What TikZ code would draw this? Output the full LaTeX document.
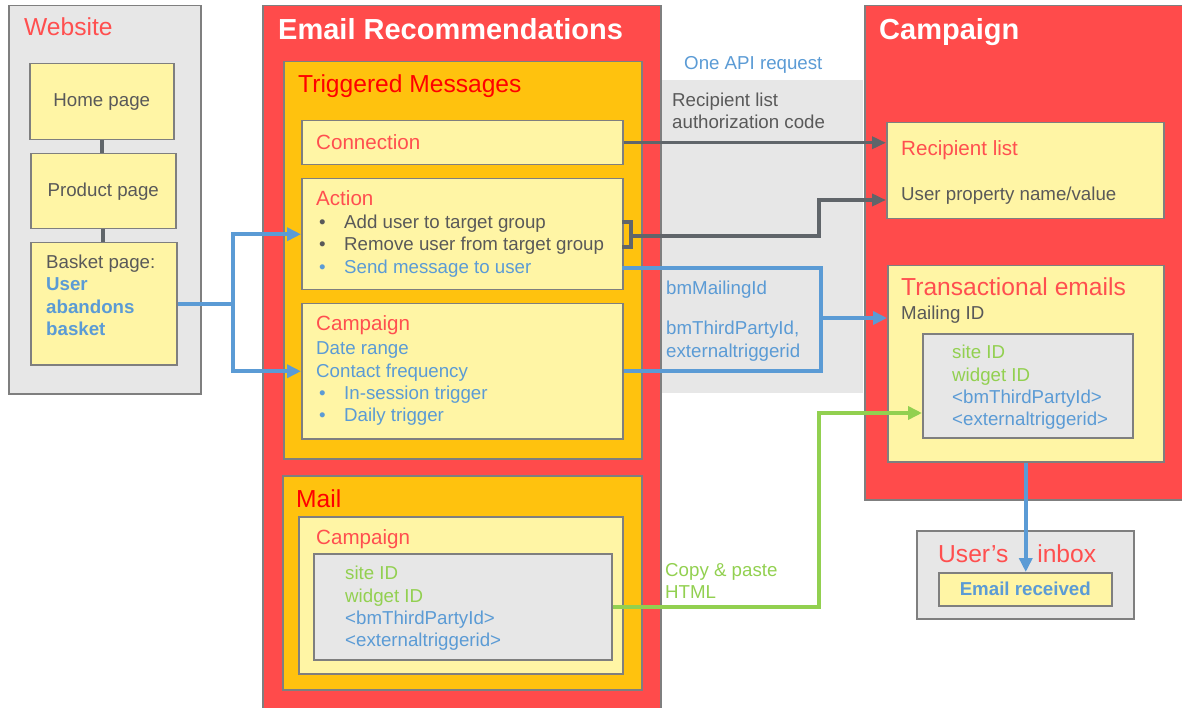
\documentclass[tikz,border=0pt]{standalone}
\usepackage{fontspec}
\setmainfont{Liberation Sans}
\usetikzlibrary{arrows.meta}
\definecolor{redfill}{HTML}{FF4B4B}
\definecolor{orangefill}{HTML}{FFC20E}
\definecolor{yellowfill}{HTML}{FFF5A5}
\definecolor{grayfill}{HTML}{E7E7E7}
\definecolor{edgegray}{HTML}{7F7F7F}
\definecolor{titlered}{HTML}{FF4F4F}
\definecolor{deepred}{HTML}{FF0000}
\definecolor{textblue}{HTML}{5B9BD5}
\definecolor{textgreen}{HTML}{92D050}
\definecolor{textgray}{HTML}{595959}
\definecolor{linegray}{HTML}{60656A}
\newcommand{\txtbody}{\fontsize{18.7}{22.3}\selectfont}
\newcommand{\txtsub}{\fontsize{20.6}{24}\selectfont}
\newcommand{\txtsec}{\fontsize{24.6}{28}\selectfont}
\newcommand{\txtbig}{\fontsize{29}{33}\selectfont\bfseries}
\newcommand{\blt}{\makebox[25pt][l]{•}}
\tikzset{
  box/.style={draw=edgegray, line width=1.5pt, anchor=north west, inner sep=0pt},
  lbl/.style={anchor=base west, inner sep=0pt, align=left, font=\txtbody},
  bluearrow/.style={draw=textblue, line width=4pt, -{Triangle[length=14pt,width=13pt]}},
  blueline/.style={draw=textblue, line width=4pt},
  grayarrow/.style={draw=linegray, line width=3.5pt, -{Triangle[length=14pt,width=12pt]}},
  grayline/.style={draw=linegray, line width=4pt},
  greenarrow/.style={draw=textgreen, line width=4pt, -{Triangle[length=14pt,width=13pt]}}
}
\begin{document}
\begin{tikzpicture}[x=1pt,y=-1pt]
  \useasboundingbox (0,0) rectangle (1182,708);
  % website
  \node[box, fill=grayfill, minimum width=192, minimum height=388] (website) at (8,5) {};
  \node[lbl, text=titlered, font=\txtsec] (websitetitle) at (24,35.8) {Website};
  \node[box, fill=yellowfill, minimum width=144, minimum height=76] (home) at (29,63) {};
  \node[text=textgray, font=\txtbody] (hometext) at (home.center) {Home page};
  \node[box, fill=yellowfill, minimum width=145, minimum height=75] (product) at (30,153) {};
  \node[text=textgray, font=\txtbody] (producttext) at (product.center) {Product page};
  \node[box, fill=yellowfill, minimum width=146, minimum height=122] (basket) at (30,242) {};
  \node[lbl] (baskettext) at (46,335.3) {\color{textgray}Basket page:\\
    \color{textblue}\bfseries User\\ \color{textblue}\bfseries abandons\\ \color{textblue}\bfseries basket};
  \draw[grayline] (home.south) -- (home.south |- product.north);
  \draw[grayline] (product.south) -- (product.south |- basket.north);
  % API band
  \node[anchor=north west, inner sep=0pt, fill=grayfill, minimum width=203, minimum height=313] (band) at (660,80) {};
  % email recommendations
  \node[box, fill=redfill, minimum width=398, minimum height=705] (emailrec) at (262,5) {};
  \node[lbl, text=white, font=\txtbig] (emailrectitle) at (278,39.4) {Email Recommendations};
  \node[box, fill=orangefill, minimum width=358, minimum height=397] (trig) at (283,61) {};
  \node[lbl, text=deepred, font=\txtsec] (trigtitle) at (298,92.8) {Triggered Messages};
  \node[box, fill=yellowfill, minimum width=321, minimum height=44] (conn) at (301,120) {};
  \node[lbl, text=titlered, font=\txtsub] (conntitle) at (316,149.4) {Connection};
  \node[box, fill=yellowfill, minimum width=321, minimum height=111] (action) at (301,178) {};
  \node[lbl, text=titlered, font=\txtsub] (actiontitle) at (316,205.4) {Action};
  \node[lbl, text=textgray] (actionlist) at (319,273.3) {\blt Add user to target group\\
    \blt Remove user from target group\\ \color{textblue}\blt Send message to user};
  \node[box, fill=yellowfill, minimum width=321, minimum height=135] (trigcamp) at (301,303) {};
  \node[lbl, text=titlered, font=\txtsub] (trigcamptitle) at (316,330.4) {Campaign};
  \node[lbl, text=textblue] (trigcamplist) at (316,421.6) {Date range\\ Contact frequency\\
    \hspace{3pt}\blt In-session trigger\\ \hspace{3pt}\blt Daily trigger};
  \node[box, fill=orangefill, minimum width=359, minimum height=214] (mail) at (282,475) {};
  \node[lbl, text=deepred, font=\txtsec] (mailtitle) at (296,507.8) {Mail};
  \node[box, fill=yellowfill, minimum width=324, minimum height=157] (mailcamp) at (298,516) {};
  \node[lbl, text=titlered, font=\txtsub] (mailcamptitle) at (316,544.4) {Campaign};
  \node[box, fill=grayfill, minimum width=298, minimum height=106] (mailgray) at (313,553) {};
  \node[lbl] (mailgraytext) at (345,646.6) {\color{textgreen}site ID\\ \color{textgreen}widget ID\\
    \color{textblue}<bmThirdPartyId>\\ \color{textblue}<externaltriggerid>};
  % campaign
  \node[box, fill=redfill, minimum width=318, minimum height=494] (campbig) at (864,5) {};
  \node[lbl, text=white, font=\txtbig] (campbigtitle) at (879,39.4) {Campaign};
  \node[box, fill=yellowfill, minimum width=277, minimum height=96] (recip) at (886,122) {};
  \node[lbl, text=titlered, font=\txtsub] (reciptitle) at (901,155.4) {Recipient list};
  \node[lbl, text=textgray] (reciptext) at (901,200.7) {User property name/value};
  \node[box, fill=yellowfill, minimum width=276, minimum height=196] (trans) at (887,265) {};
  \node[lbl, text=titlered, font=\txtsec] (transtitle) at (901,295.8) {Transactional emails};
  \node[lbl, text=textgray] (transtext) at (901,319.7) {Mailing ID};
  \node[box, fill=grayfill, minimum width=210, minimum height=104] (transgray) at (922,333) {};
  \node[lbl] (transgraytext) at (952,425.6) {\color{textgreen}site ID\\ \color{textgreen}widget ID\\
    \color{textblue}<bmThirdPartyId>\\ \color{textblue}<externaltriggerid>};
  % inbox
  \node[box, fill=grayfill, minimum width=217, minimum height=88] (inbox) at (916,530) {};
  \node[lbl, text=titlered, font=\txtsec] (inboxtitle) at (938,562.8) {User’s\hspace{29pt}inbox};
  \node[box, fill=yellowfill, minimum width=173, minimum height=33, text=textblue, font=\txtbody\bfseries] (received) at (938,572)
    {Email received};
  % band labels
  \node[lbl, text=textblue] (apilabel) at (684,69.7) {One API request};
  \node[lbl, text=textgray] (authlabel) at (672,128.7) {Recipient list\\ authorization code};
  \node[lbl, text=textblue] (mailinglabel) at (666,294.7) {bmMailingId};
  \node[lbl, text=textblue, font=\fontsize{18.7}{23}\selectfont] (thirdlabel) at (666,357.7) {bmThirdPartyId,\\ externaltriggerid};
  \node[lbl, text=textgreen] (copylabel) at (665,598.7) {Copy \& paste\\ HTML};
  % connectors
  \draw[bluearrow] (basket.east) -- ++(55,0) |- (action.west);
  \draw[bluearrow] (basket.east) -- ++(55,0) |- (trigcamp.west);
  \draw[grayarrow] (conn.east) -- (conn.east -| recip.west);
  \draw[grayline] (622,222) -- (631,222) -- (631,247) -- (622,247);
  \coordinate (brk) at (631,236);
  \coordinate (upv) at (819,200);
  \draw[grayarrow] (brk) -| (upv) -- (recip.west |- upv);
  \coordinate (sendmsg) at (622,268);
  \coordinate (joinv) at (821,318);
  \draw[blueline] (sendmsg) -| (joinv) |- (trigcamp.east);
  \draw[bluearrow] (joinv) -- (joinv -| trans.west);
  \coordinate (greenv) at (819,413);
  \draw[greenarrow] (mailgray.east) -| (greenv) -- (greenv -| transgray.west);
  \draw[bluearrow] (trans.south) -- (trans.south |- received.north);
\end{tikzpicture}
\end{document}
